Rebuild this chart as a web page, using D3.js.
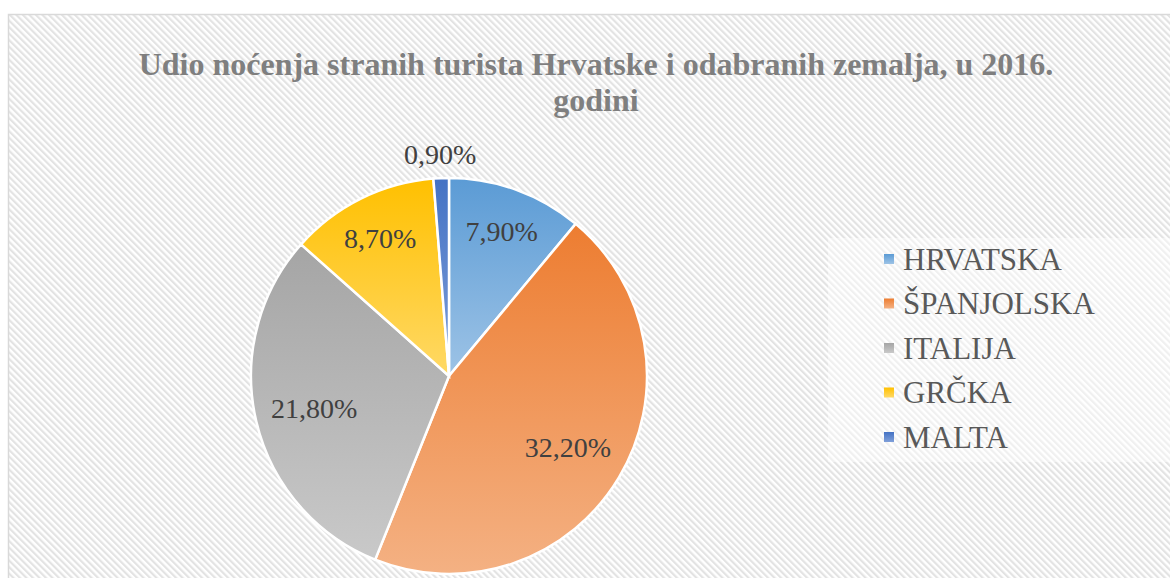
<!DOCTYPE html>
<html>
<head>
<meta charset="utf-8">
<script src="https://cdn.jsdelivr.net/npm/d3@7"></script>
<style>
  body { margin: 0; background: #fff; }
</style>
</head>
<body>
<script>
let countries = ["HRVATSKA", "ŠPANJOLSKA", "ITALIJA", "GRČKA", "MALTA"];
let shares = [7.9, 32.2, 21.8, 8.7, 0.9];
let labels = ["7,90%", "32,20%", "21,80%", "8,70%", "0,90%"];
let topColors = ["#5b9bd5", "#ed7d31", "#a5a5a5", "#ffc000", "#4472c4"];
let bottomColors = ["#9dc3e6", "#f4b183", "#c9c9c9", "#ffd966", "#7f9fd9"];

let w = 1170;
let h = 578;
let serif = "'Liberation Serif', 'Times New Roman', serif";

let svg = d3.select("body")
  .append("svg")
  .attr("width", w)
  .attr("height", h);

let defs = svg.append("defs");

// diagonal hatch background
let pat = defs.append("pattern")
  .attr("id", "hatch")
  .attr("patternUnits", "userSpaceOnUse")
  .attr("width", 4.6)
  .attr("height", 4.6)
  .attr("patternTransform", "rotate(-45)");
pat.append("rect").attr("width", 4.6).attr("height", 4.6).attr("fill", "#ffffff");
pat.append("rect").attr("width", 2.2).attr("height", 4.6).attr("fill", "#e3e3e3");

svg.append("rect")
  .attr("x", 8.5)
  .attr("y", 14.5)
  .attr("width", 1180)
  .attr("height", 600)
  .attr("fill", "url(#hatch)")
  .attr("stroke", "#d9d9d9")
  .attr("stroke-width", 1.5);

// gradients
countries.forEach((c, i) => {
  let g = defs.append("linearGradient")
    .attr("id", "grad" + i)
    .attr("x1", 0).attr("y1", 0)
    .attr("x2", 0).attr("y2", 1);
  g.append("stop").attr("offset", "0%").attr("stop-color", topColors[i]);
  g.append("stop").attr("offset", "100%").attr("stop-color", bottomColors[i]);
});

// title
let title = svg.append("text")
  .attr("text-anchor", "middle")
  .attr("font-family", serif)
  .attr("font-weight", "bold")
  .attr("font-size", "32px")
  .attr("fill", "#7f7f7f");
title.append("tspan").attr("x", 596).attr("y", 75)
  .text("Udio noćenja stranih turista Hrvatske i odabranih zemalja, u 2016.");
title.append("tspan").attr("x", 596).attr("y", 111).text("godini");

// pie
let cx = 449, cy = 376, radius = 198;
let pie = d3.pie().sort(null)(shares);
let arc = d3.arc().innerRadius(0).outerRadius(radius);

let g = svg.append("g").attr("transform", `translate(${cx},${cy})`);

g.selectAll("path")
  .data(pie)
  .enter()
  .append("path")
  .attr("d", arc)
  .attr("fill", (d, i) => "url(#grad" + i + ")")
  .attr("stroke", "#fff")
  .attr("stroke-width", 2.5);

// labels (best-fit-ish)
g.selectAll("text.lbl")
  .data(pie)
  .enter()
  .append("text")
  .attr("class", "lbl")
  .attr("transform", (d) => {
    let span = d.endAngle - d.startAngle;
    let r;
    if (span < 0.2) r = radius + 24;
    else if (span < 0.9) r = radius * 0.78;
    else r = radius * 0.7;
    let a = (d.startAngle + d.endAngle) / 2;
    return `translate(${Math.sin(a) * r},${-Math.cos(a) * r})`;
  })
  .attr("text-anchor", "middle")
  .attr("dy", "0.35em")
  .attr("font-family", serif)
  .attr("font-size", "28px")
  .attr("fill", "#404040")
  .text((d, i) => labels[i]);

// legend
svg.append("rect")
  .attr("x", 828)
  .attr("y", 238)
  .attr("width", 342)
  .attr("height", 224)
  .attr("fill", "#ffffff")
  .attr("opacity", 0.45);

let legY = d3.scalePoint()
  .domain(countries)
  .range([259, 437]);

let leg = svg.selectAll("g.leg")
  .data(countries)
  .enter()
  .append("g")
  .attr("class", "leg")
  .attr("transform", (d) => `translate(884,${legY(d)})`);

leg.append("rect")
  .attr("x", 0)
  .attr("y", -5)
  .attr("width", 10)
  .attr("height", 10)
  .attr("fill", (d, i) => "url(#grad" + i + ")");

leg.append("text")
  .attr("x", 19)
  .attr("dy", "0.35em")
  .attr("font-family", serif)
  .attr("font-size", "31px")
  .attr("fill", "#595959")
  .text((d) => d);
</script>
</body>
</html>
